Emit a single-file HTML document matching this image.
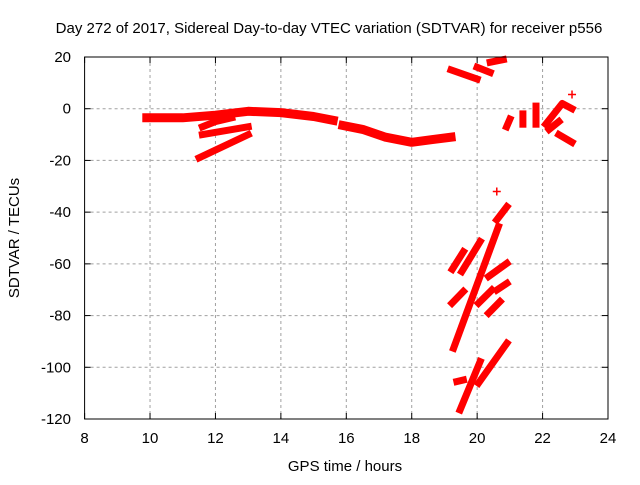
<!DOCTYPE html>
<html><head><meta charset="utf-8"><style>
body{margin:0;background:#fff;}
svg text{font-family:"Liberation Sans",sans-serif;font-size:15px;fill:#000;}
</style></head><body>
<svg id="chart" width="640" height="480" viewBox="0 0 640 480" xmlns="http://www.w3.org/2000/svg">
<text x="329" y="33" text-anchor="middle">Day 272 of 2017, Sidereal Day-to-day VTEC variation (SDTVAR) for receiver p556</text>
<g id="grid"></g>
<g id="marks"></g>
<rect x="84.6" y="57" width="523.4" height="362" fill="none" stroke="#000" stroke-width="1"/>
<g id="ticks"></g>
<text x="345" y="471" text-anchor="middle">GPS time / hours</text>
<text transform="translate(19,238) rotate(-90)" text-anchor="middle">SDTVAR / TECUs</text>
</svg>
<script>
const xTicks=[8,10,12,14,16,18,20,22,24];
const yTicks=[20,0,-20,-40,-60,-80,-100,-120];
const segmentsX=[
[9.9,11,12,13,14,15,15.6],
[15.9,16.5,17.2,18,18.6,19.2],
[11.6,12,12.5],
[11.6,13],
[11.5,13],
[19.2,20],[20,20.4],[20.4,20.8],
[20.9,21],[21.4,21.4],[21.8,21.8],[22.1,22.6,22.9],[22.2,22.5],[22.5,22.9],
[19.24,19.58],[19.53,20.09],[19.28,20.65],[20.6,20.91],[20.35,20.91],[19.23,19.58],[20.04,20.45],[20.35,20.7],[20.6,20.91],[19.48,20.09],[20.04,20.91],[19.38,19.58]
];
const segmentsY=[
[-3.5,-3.5,-2.5,-1,-1.5,-3,-4.5],
[-6.5,-8,-11,-13,-12,-11],
[-7,-5,-3.5],
[-10,-7],
[-19,-10],
[15,11.5],[16,14],[18,19],
[-7,-4],[-6,-2],[-6,1],[-6,2,0],[-8,-5],[-10,-13],
[-62.1,-55.3],[-63,-51.4],[-92.6,-45.6],[-43,-37.9],[-64.9,-59.8],[-75.2,-70.7],[-75.2,-70.1],[-79.1,-74.6],[-70.1,-67.5],[-116.5,-97.8],[-106.1,-90.7],[-105.5,-104.9]
];
const pointsX=[22.9,20.6];
const pointsY=[5.5,-32];
const NS="http://www.w3.org/2000/svg";
const X0=84.6,X1=608,Y0=57,Y1=419;
function sx(v){return X0+(v-8)/(24-8)*(X1-X0);}
function sy(v){return Y0+(20-v)/(140)*(Y1-Y0);}
function mk(t,a,p){const e=document.createElementNS(NS,t);for(const k in a)e.setAttribute(k,a[k]);p.appendChild(e);return e;}
const grid=document.getElementById('grid'),ticks=document.getElementById('ticks'),marks=document.getElementById('marks');
xTicks.forEach(v=>{const x=sx(v);
 if(v>8&&v<24){const l=mk('line',{x1:x,x2:x,y1:Y0,y2:Y1,stroke:'#a0a0a0','stroke-dasharray':'3,3'},grid);
 
 }
 mk('line',{x1:x,x2:x,y1:Y1,y2:Y1-6,stroke:'#000'},ticks);
 mk('line',{x1:x,x2:x,y1:Y0,y2:Y0+6,stroke:'#000'},ticks);
 const t=mk('text',{x:x,y:443,'text-anchor':'middle'},ticks);t.textContent=v;
 
 
});
yTicks.forEach(v=>{const y=sy(v);
 if(v<20&&v>-120){const l=mk('line',{x1:X0,x2:X1,y1:y,y2:y,stroke:'#a0a0a0','stroke-dasharray':'3,3'},grid);
 
 }
 mk('line',{x1:X0,x2:X0+6,y1:y,y2:y,stroke:'#000'},ticks);
 mk('line',{x1:X1,x2:X1-6,y1:y,y2:y,stroke:'#000'},ticks);
 const t=mk('text',{x:71,y:y+5,'text-anchor':'end'},ticks);t.textContent=v;
 
 
});
segmentsX.forEach((xs,i)=>{const ys=segmentsY[i];
 const pts=xs.map((x,j)=>sx(x).toFixed(1)+','+sy(ys[j]).toFixed(1)).join(' ');
 const p=mk('polyline',{points:pts,fill:'none',stroke:'#f00','stroke-width':i<2?9:7,'stroke-linecap':'square','stroke-linejoin':'round'},marks);
 
 
});
pointsX.forEach((x,i)=>{const cx=sx(x),cy=sy(pointsY[i]);
 const p=mk('path',{d:`M${cx-4},${cy}H${cx+4}M${cx},${cy-4}V${cy+4}`,stroke:'#f00','stroke-width':1.5},marks);
 
 
});
</script>
</body></html>
